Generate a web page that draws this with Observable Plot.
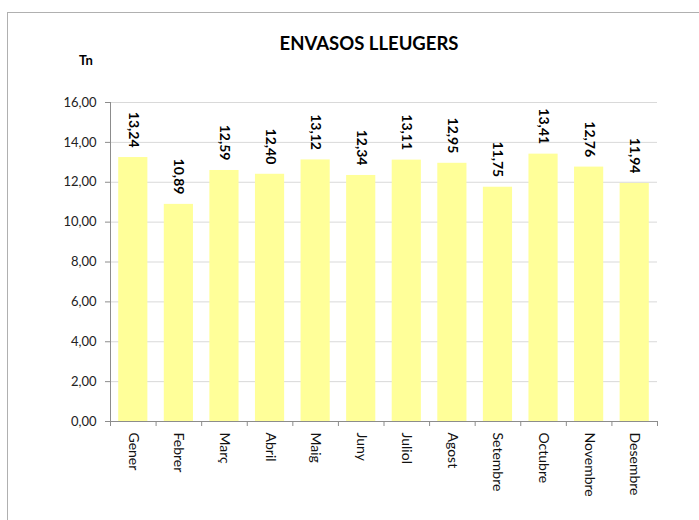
<!DOCTYPE html>
<html>
<head>
<meta charset="utf-8">
<script src="https://cdn.jsdelivr.net/npm/d3@7"></script>
<script src="https://cdn.jsdelivr.net/npm/@observablehq/plot@0.6"></script>
<style>
  html, body { margin: 0; padding: 0; background: #fff; }
  #wrap { position: relative; width: 699px; height: 520px; overflow: hidden; font-family: Lato, sans-serif; }
  #frame { position: absolute; left: 7px; top: 12px; width: 700px; height: 520px; border-left: 1px solid #b0b0b0; border-top: 1px solid #b0b0b0; }
  #title { position: absolute; left: 0; top: 32px; width: 738px; text-align: center; font-weight: bold; font-size: 18.5px; color: #000; }
  #unit { position: absolute; left: 79px; top: 52px; font-weight: bold; font-size: 13px; color: #000; }
  #chart { position: absolute; left: 0; top: 0; }
</style>
</head>
<body>
<div id="wrap">
  <div id="frame"></div>
  <div id="title">ENVASOS LLEUGERS</div>
  <div id="unit">Tn</div>
  <div id="chart"></div>
</div>
<script>
const months = ["Gener","Febrer","Març","Abril","Maig","Juny","Juliol","Agost","Setembre","Octubre","Novembre","Desembre"];
const values = [13.24, 10.89, 12.59, 12.40, 13.12, 12.34, 13.11, 12.95, 11.75, 13.41, 12.76, 11.94];
const yTicks = [0, 2, 4, 6, 8, 10, 12, 14, 16];

const data = months.map((m, i) => ({month: m, value: values[i]}));
const fmt = v => v.toFixed(2).replace(".", ",");

const W = 699, H = 520, ML = 110, MR = 42, MT = 102, MB = 99;
const step = (W - ML - MR) / months.length;

const chart = Plot.plot({
  width: W,
  height: H,
  marginLeft: ML,
  marginRight: MR,
  marginTop: MT,
  marginBottom: MB,
  style: {fontFamily: "Lato, sans-serif", background: "transparent", overflow: "visible"},
  x: {domain: months, paddingInner: 0.36, paddingOuter: 0.18, round: false, label: null},
  y: {domain: [0, 16], label: null},
  marks: [
    Plot.gridY(yTicks, {stroke: "#d9d9d9", strokeOpacity: 1}),
    Plot.barY(data, {x: "month", y: "value", fill: "#FFFF99"}),
    Plot.ruleY([0], {stroke: "#8c8c8c"}),
    Plot.ruleX([months[0]], {dx: -step / 2, stroke: "#8c8c8c", insetBottom: -5}),
    Plot.ruleX(months, {x: d => d, y1: 0, y2: 0, dx: step / 2, stroke: "#8c8c8c", insetBottom: -5}),
    Plot.axisY(yTicks, {tickSize: 5, tickPadding: 9, tickFormat: fmt, stroke: "#8c8c8c", fontSize: 13, fill: "#222", label: null}),
    Plot.axisX({tickSize: 0, tickPadding: 11, tickRotate: 90, fontSize: 14, fill: "#111", label: null}),
    Plot.text(data, {x: "month", y: "value", text: d => fmt(d.value), rotate: 90, textAnchor: "end", dy: -10, fontSize: 14, fontWeight: "bold", fill: "#000"})
  ]
});
document.getElementById("chart").appendChild(chart);
</script>
</body>
</html>
